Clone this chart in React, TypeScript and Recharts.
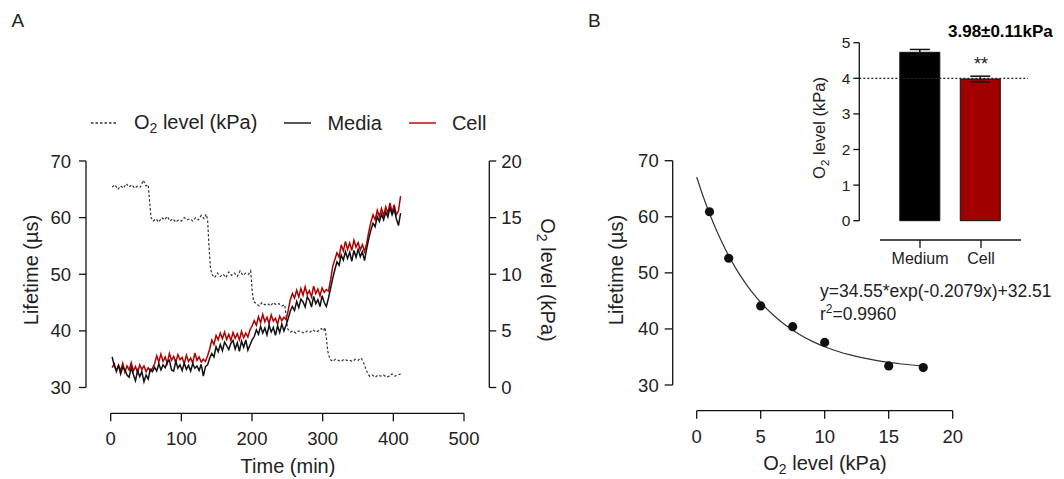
import React from "react";
import {
  Bar,
  BarChart,
  Cell,
  ComposedChart,
  ErrorBar,
  Legend,
  Line,
  LineChart,
  ReferenceLine,
  Scatter,
  XAxis,
  YAxis,
} from "recharts";

const FONT = "'Liberation Sans', Arial, sans-serif";
const INK = "#222";
const AXIS = { stroke: "#111", strokeWidth: 1.3 };

// Panel A: lifetime trace (min, µs)
const timeMin = [
  2, 5, 8, 11, 14, 17, 20, 23, 26, 29, 32, 35, 38, 41, 44, 47, 50, 53, 56, 59,
  62, 65, 68, 71, 74, 77, 80, 83, 86, 89, 92, 95, 98, 101, 104, 107, 110, 113, 116, 119,
  122, 125, 128, 131, 134, 137, 140, 143, 146, 149, 152, 155, 158, 161, 164, 167, 170, 173, 176, 179,
  182, 185, 188, 191, 194, 197, 200, 203, 206, 209, 212, 215, 218, 221, 224, 227, 230, 233, 236, 239,
  242, 245, 248, 251, 254, 257, 260, 263, 266, 269, 272, 275, 278, 281, 284, 287, 290, 293, 296, 299,
  302, 305, 308, 311, 314, 317, 320, 323, 326, 329, 332, 335, 338, 341, 344, 347, 350, 353, 356, 359,
  362, 365, 368, 371, 374, 377, 380, 383, 386, 389, 392, 395, 398, 401, 404, 407, 410,
];
const mediaLifetime = [
  35.4, 33.8, 33.0, 33.9, 32.4, 33.6, 33.1, 32.2, 31.8, 33.5, 32.3, 31.2, 33.0, 31.9, 32.8, 31.0, 32.2, 31.5, 33.2, 32.8,
  33.6, 32.9, 34.2, 33.1, 34.0, 33.5, 34.5, 34.8, 33.1, 32.9, 34.6, 33.4, 34.0, 33.0, 34.3, 33.2, 33.9, 32.9, 34.2, 33.4,
  33.8, 33.0, 34.1, 32.0, 33.7, 34.0, 35.2, 36.0, 35.4, 37.2, 36.3, 37.6, 36.5, 38.0, 37.4, 36.7, 37.8, 38.3, 36.8, 37.9,
  36.4, 38.2, 37.1, 38.4, 36.6, 37.5, 38.4, 39.0, 40.2, 39.4, 40.8, 39.6, 40.5, 39.3, 41.0, 39.8, 40.6, 39.2, 40.9, 39.7,
  41.2, 40.0, 41.0, 42.2, 43.5, 44.3, 43.6, 45.2, 44.1, 45.6, 45.1, 44.2, 46.0, 45.4, 44.2, 46.1, 44.8, 45.5, 44.3, 46.2,
  45.0, 44.3, 45.8, 47.5, 49.3, 50.8, 52.2, 51.6, 53.4, 52.5, 54.0, 52.8, 53.9, 52.3, 54.2, 53.0, 54.4, 53.1, 54.0, 52.4,
  54.5, 56.3, 57.8, 59.0, 58.4, 60.2, 59.3, 60.6, 59.6, 61.0, 60.1, 61.8, 60.5, 61.5, 59.8, 58.6, 60.8,
];
const cellLifetime = [
  33.5, 34.2, 32.8, 33.9, 33.0, 34.3, 32.7, 33.8, 33.1, 34.4, 32.9, 33.7, 32.6, 34.0, 33.2, 33.8, 32.8, 33.5, 32.9, 33.4,
  34.2, 35.6, 34.5, 35.9, 34.6, 35.4, 34.3, 36.0, 34.8, 35.5, 34.4, 35.8, 34.9, 35.3, 34.2, 35.7, 34.6, 35.2, 34.3, 36.1,
  34.8, 35.4, 34.5, 35.0, 34.6, 35.6, 36.8, 38.4, 37.6, 39.2, 38.4, 39.6, 38.6, 39.8, 38.5, 39.4, 38.3, 39.7, 38.7, 39.5,
  38.4, 39.9, 38.8, 39.6, 38.9, 40.2, 40.9, 41.8, 41.0, 42.5, 41.4, 42.9, 41.6, 42.4, 41.3, 42.8, 41.7, 42.2, 41.2, 42.6,
  41.8, 42.4, 42.0, 43.6, 45.5, 46.6, 45.8, 47.2, 46.0, 47.5, 46.3, 47.8, 46.4, 47.1, 46.0, 47.9, 46.6, 47.4, 46.2, 47.6,
  46.8, 47.3, 47.0, 49.0, 51.4, 52.6, 53.8, 53.0, 55.2, 54.1, 55.8, 54.4, 55.5, 54.2, 56.0, 54.8, 55.6, 54.3, 55.2, 54.0,
  55.4, 57.5, 59.2, 60.5, 59.6, 61.3, 60.2, 61.6, 60.4, 61.9, 60.8, 62.6, 61.0, 62.3, 60.5, 61.2, 63.8,
];

// Panel A: O2 level trace (min, kPa)
const o2Time = [
  2, 6, 10, 14, 18, 22, 26, 30, 34, 38, 42, 46, 50, 53, 55, 57, 60, 64, 68, 72,
  76, 80, 84, 88, 92, 96, 100, 104, 108, 112, 116, 120, 124, 128, 132, 135, 137, 139, 141, 143,
  147, 151, 155, 159, 163, 167, 171, 175, 179, 183, 187, 191, 195, 198, 200, 202, 206, 210, 214, 218,
  222, 226, 230, 234, 238, 242, 246, 248, 250, 254, 258, 262, 266, 270, 274, 278, 282, 286, 290, 294,
  298, 301, 303, 305, 307, 310, 314, 318, 322, 326, 330, 334, 338, 342, 346, 350, 354, 357, 360, 363,
  366, 370, 374, 378, 382, 386, 390, 394, 398, 402, 406, 410,
];
const o2Level = [
  17.7, 17.9, 17.5, 17.8, 17.6, 18.0, 17.7, 17.9, 17.6, 17.8, 17.7, 18.3, 17.8, 17.9, 16.4, 15.0, 14.7, 14.9, 14.6, 15.0,
  14.8, 15.1, 14.7, 14.9, 14.6, 14.8, 14.7, 15.0, 14.8, 14.9, 14.7, 15.0, 14.8, 15.2, 14.9, 15.3, 14.8, 12.5, 10.6, 10.0,
  9.7, 10.1, 9.8, 10.0, 9.7, 10.2, 9.9, 10.1, 9.8, 10.3, 9.9, 10.1, 10.0, 10.3, 8.6, 7.6, 7.4, 7.2, 7.5, 7.3,
  7.4, 7.2, 7.5, 7.3, 7.4, 7.2, 7.3, 6.4, 5.2, 4.9, 5.0, 4.8, 5.0, 4.9, 4.8, 5.0, 4.9, 5.1, 4.9, 5.0,
  5.2, 5.0, 5.3, 4.4, 3.2, 2.5, 2.3, 2.5, 2.4, 2.3, 2.5, 2.4, 2.4, 2.3, 2.5, 2.4, 2.6, 2.3, 1.8, 1.3,
  1.0, 1.1, 0.9, 1.1, 1.0, 1.1, 0.9, 1.0, 1.2, 1.0, 1.1, 1.2,
];

const lifeTicks = [30, 40, 50, 60, 70];
const o2Ticks = [0, 5, 10, 15, 20];
const timeTicks = [0, 100, 200, 300, 400, 500];

// Panel B: calibration points and fitted curve
const calO2 = [1, 2.5, 5, 7.5, 10, 15, 17.7];
const calLifetime = [60.9, 52.6, 44.1, 40.4, 37.6, 33.4, 33.1];
const fitO2 = [0, 0.5, 1, 1.5, 2, 2.5, 3, 3.5, 4, 4.5, 5, 6, 7, 8, 9, 10, 11, 12, 13, 14, 15, 16, 17, 18];
const fitLifetime = [
  67.06, 63.65, 60.58, 57.81, 55.31, 53.06, 51.03, 49.2, 47.55, 46.07, 44.73, 42.43, 40.57, 39.06, 37.83,
  36.83, 36.02, 35.36, 34.83, 34.39, 34.04, 33.75, 33.52, 33.33,
];
const kpaTicks = [0, 5, 10, 15, 20];

// Inset: O2 level in medium vs cell
const groups = ["Medium", "Cell"];
const groupMean = [4.73, 3.98];
const groupErr = [0.08, 0.08];
const groupFill = ["#000000", "#a00000"];
const insetTicks = [0, 1, 2, 3, 4, 5];

const O2_NAME = "O2 level (kPa)";
const legendOrder = [O2_NAME, "Media", "Cell"];

const lifeData = timeMin.map((t, i) => ({ t, media: mediaLifetime[i], cell: cellLifetime[i] }));
const o2Data = o2Time.map((t, i) => ({ t, o2: o2Level[i] }));
const calData = calO2.map((x, i) => ({ x, y: calLifetime[i] }));
const fitData = fitO2.map((x, i) => ({ x, y: fitLifetime[i] }));
const barData = groups.map((g, i) => ({ group: g, mean: groupMean[i], err: groupErr[i] }));

const tick = (size: number) => ({ fill: INK, fontSize: size, fontFamily: FONT });

function withSub(text: string) {
  if (!text.startsWith("O2")) return text;
  return (
    <>
      O<span style={{ fontSize: "0.7em", position: "relative", top: "0.3em" }}>2</span>
      {text.slice(2)}
    </>
  );
}

function LegendRow({ payload }: any) {
  const items = [...(payload ?? [])].sort(
    (a: any, b: any) => legendOrder.indexOf(a.value) - legendOrder.indexOf(b.value)
  );
  return (
    <div style={{ display: "flex", alignItems: "center", fontSize: 20, color: INK, fontFamily: FONT, whiteSpace: "nowrap", lineHeight: "24px" }}>
      {items.map((e: any, i: number) => (
        <div key={e.value} style={{ display: "flex", alignItems: "center", marginLeft: i ? 27 : 0 }}>
          <svg width={27} height={10}>
            <line
              x1={0}
              x2={27}
              y1={5}
              y2={5}
              stroke={e.color}
              strokeWidth={1.4}
              strokeDasharray={e.value === O2_NAME ? "2.5 2" : undefined}
            />
          </svg>
          <span style={{ marginLeft: 16 }}>{withSub(e.value)}</span>
        </div>
      ))}
    </div>
  );
}

function O2Text({ x, y, size, angle = 0 }: { x: number; y: number; size: number; angle?: number }) {
  const d = size * 0.22;
  return (
    <text x={x} y={y} fontSize={size} textAnchor="middle" transform={angle ? `rotate(${angle} ${x} ${y})` : undefined}>
      O
      <tspan fontSize={size * 0.7} dy={d}>
        2
      </tspan>
      <tspan dy={-d}> level (kPa)</tspan>
    </text>
  );
}

const box: React.CSSProperties = { position: "absolute", left: 0, top: 0 };

export default function App() {
  return (
    <div style={{ position: "absolute", left: 0, top: 0, width: 1064, height: 479, background: "#fff", fontFamily: FONT }}>
      {/* A: traces with both y axes */}
      <div style={box}>
        <LineChart width={1064} height={479} margin={{ top: 161, right: 514.7, bottom: 91.5, left: 26 }}>
          <XAxis type="number" dataKey="t" domain={[-35, 535.5]} allowDataOverflow hide />
          <YAxis
            yAxisId="life"
            domain={[30, 70]}
            ticks={lifeTicks}
            width={60}
            tickSize={7}
            tickMargin={8}
            axisLine={AXIS}
            tickLine={AXIS}
            tick={tick(18.5)}
          />
          <YAxis
            yAxisId="o2"
            orientation="right"
            domain={[0, 20]}
            ticks={o2Ticks}
            width={60}
            tickSize={7}
            tickMargin={5}
            axisLine={AXIS}
            tickLine={AXIS}
            tick={tick(18.5)}
          />
          <Legend
            layout="horizontal"
            verticalAlign="middle"
            align="center"
            content={<LegendRow />}
            wrapperStyle={{ top: 110, left: 91, width: "auto", height: "auto" }}
          />
          <Line
            yAxisId="o2"
            data={o2Data}
            dataKey="o2"
            name={O2_NAME}
            type="linear"
            stroke="#333"
            strokeWidth={1.2}
            strokeDasharray="2.5 2"
            dot={false}
            isAnimationActive={false}
          />
          <Line
            yAxisId="life"
            data={lifeData}
            dataKey="cell"
            name="Cell"
            type="linear"
            stroke="#b00000"
            strokeWidth={1.5}
            dot={false}
            isAnimationActive={false}
          />
          <Line
            yAxisId="life"
            data={lifeData}
            dataKey="media"
            name="Media"
            type="linear"
            stroke="#111"
            strokeWidth={1.5}
            dot={false}
            isAnimationActive={false}
          />
        </LineChart>
      </div>

      {/* A: offset time axis */}
      <div style={box}>
        <LineChart width={1064} height={479} margin={{ top: 161, right: 600, bottom: 5.7, left: 110.7 }}>
          <XAxis
            type="number"
            dataKey="t"
            domain={[0, 500]}
            ticks={timeTicks}
            allowDataOverflow
            height={60}
            tickSize={8}
            tickMargin={11}
            axisLine={AXIS}
            tickLine={AXIS}
            tick={tick(18.5)}
          />
          <YAxis hide domain={[0, 20]} />
          <Line data={o2Data} dataKey="o2" stroke="none" dot={false} isAnimationActive={false} legendType="none" />
        </LineChart>
      </div>

      {/* B: calibration */}
      <div style={box}>
        <ComposedChart width={1064} height={479} margin={{ top: 160.7, right: 104, bottom: 94, left: 612.7 }}>
          <XAxis type="number" dataKey="x" domain={[-1.875, 20.57]} allowDataOverflow hide />
          <YAxis
            type="number"
            dataKey="y"
            domain={[30, 70]}
            ticks={lifeTicks}
            width={60}
            tickSize={8}
            tickMargin={6}
            axisLine={AXIS}
            tickLine={AXIS}
            tick={tick(18.5)}
          />
          <Line data={fitData} dataKey="y" type="monotone" stroke="#333" strokeWidth={1.2} dot={false} isAnimationActive={false} />
          <Scatter
            data={calData}
            dataKey="y"
            isAnimationActive={false}
            shape={(p: any) => <circle cx={p.cx} cy={p.cy} r={4.6} fill="#111" />}
          />
        </ComposedChart>
      </div>

      {/* B: offset O2 axis */}
      <div style={box}>
        <ComposedChart width={1064} height={479} margin={{ top: 160.7, right: 111.3, bottom: 8.3, left: 696.7 }}>
          <XAxis
            type="number"
            dataKey="x"
            domain={[0, 20]}
            ticks={kpaTicks}
            allowDataOverflow
            height={60}
            tickSize={8}
            tickMargin={11}
            axisLine={AXIS}
            tickLine={AXIS}
            tick={tick(18.5)}
          />
          <YAxis hide domain={[30, 70]} />
          <Line data={fitData} dataKey="y" stroke="none" dot={false} isAnimationActive={false} />
        </ComposedChart>
      </div>

      {/* B inset: bars */}
      <div style={box}>
        <BarChart width={1064} height={479} data={barData} margin={{ top: 42.7, right: 36, bottom: 258.3, left: 809.3 }}>
          <XAxis dataKey="group" hide padding={{ left: 30.5, right: 17.25 }} />
          <YAxis
            domain={[0, 5]}
            ticks={insetTicks}
            width={50}
            tickSize={6}
            tickMargin={3}
            axisLine={AXIS}
            tickLine={AXIS}
            tick={tick(15.5)}
          />
          <ReferenceLine y={4} stroke="#222" strokeWidth={1.2} strokeDasharray="2 2" />
          <Bar dataKey="mean" barSize={40} isAnimationActive={false}>
            {barData.map((d, i) => (
              <Cell key={d.group} fill={groupFill[i]} stroke="#111" strokeWidth={1} />
            ))}
            <ErrorBar dataKey="err" width={10} stroke="#111" strokeWidth={1.5} direction="y" />
          </Bar>
        </BarChart>
      </div>

      {/* B inset: offset category axis */}
      <div style={box}>
        <BarChart width={1064} height={479} data={barData} margin={{ top: 200, right: 43, bottom: 199, left: 880 }}>
          <XAxis
            dataKey="group"
            padding={{ left: 9.5, right: 9.5 }}
            height={40}
            tickSize={8}
            tickMargin={5}
            axisLine={AXIS}
            tickLine={AXIS}
            tick={tick(16)}
          />
          <YAxis hide domain={[0, 5]} />
          <Bar dataKey="mean" fill="none" isAnimationActive={false} />
        </BarChart>
      </div>

      {/* titles and annotations */}
      <svg width={1064} height={479} style={{ ...box, pointerEvents: "none" }} fill={INK} fontFamily={FONT}>
        <text x={11.5} y={26.7} fontSize={19}>A</text>
        <text x={588} y={26.7} fontSize={19}>B</text>

        <text x={38} y={270} fontSize={20} textAnchor="middle" transform="rotate(-90 38 270)">
          Lifetime (µs)
        </text>
        <O2Text x={541} y={280} size={20} angle={90} />
        <text x={288} y={473} fontSize={20} textAnchor="middle">Time (min)</text>

        <text x={623} y={270} fontSize={20} textAnchor="middle" transform="rotate(-90 623 270)">
          Lifetime (µs)
        </text>
        <O2Text x={825} y={470} size={20} />

        <text x={820} y={296.7} fontSize={17.5}>y=34.55*exp(-0.2079x)+32.51</text>
        <text x={820} y={320} fontSize={17.5}>
          r
          <tspan fontSize={12} dy={-7}>2</tspan>
          <tspan dy={7}>=0.9960</tspan>
        </text>

        <O2Text x={825} y={128} size={16.5} angle={-90} />
        <text x={948} y={37} fontSize={17} fontWeight="bold" fill="#000">3.98±0.11kPa</text>
        <text x={981} y={70} fontSize={18} textAnchor="middle">**</text>
      </svg>
    </div>
  );
}
